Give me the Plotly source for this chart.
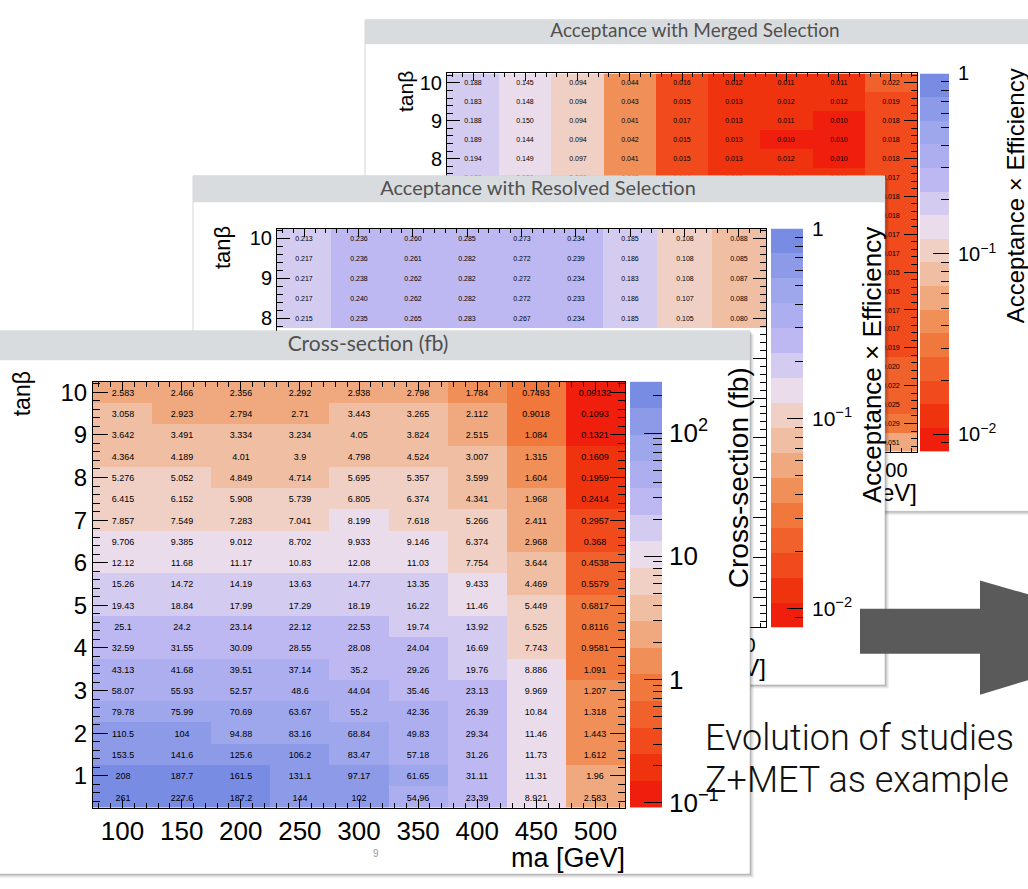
import math
import plotly.graph_objects as go

W, H = 1028, 889
FONT = "Liberation Sans"
TFONT = "Lato"

# ---------------- data ----------------
ma = [100, 150, 200, 250, 300, 350, 400, 450, 500]
tanb = [0.5, 1.0, 1.5, 2.0, 2.5, 3.0, 3.5, 4.0, 4.5, 5.0,
        5.5, 6.0, 6.5, 7.0, 7.5, 8.0, 8.5, 9.0, 9.5, 10.0]

# Cross-section (fb), rows from tanb = 10 down to 0.5
xsec_rows_top_down = [
    [2.583, 2.466, 2.356, 2.292, 2.938, 2.798, 1.784, 0.7493, 0.09132],
    [3.058, 2.923, 2.794, 2.71, 3.443, 3.265, 2.112, 0.9018, 0.1093],
    [3.642, 3.491, 3.334, 3.234, 4.05, 3.824, 2.515, 1.084, 0.1321],
    [4.364, 4.189, 4.01, 3.9, 4.798, 4.524, 3.007, 1.315, 0.1609],
    [5.276, 5.052, 4.849, 4.714, 5.695, 5.357, 3.599, 1.604, 0.1959],
    [6.415, 6.152, 5.908, 5.739, 6.805, 6.374, 4.341, 1.968, 0.2414],
    [7.857, 7.549, 7.283, 7.041, 8.199, 7.618, 5.266, 2.411, 0.2957],
    [9.706, 9.385, 9.012, 8.702, 9.933, 9.146, 6.374, 2.968, 0.368],
    [12.12, 11.68, 11.17, 10.83, 12.08, 11.03, 7.754, 3.644, 0.4538],
    [15.26, 14.72, 14.19, 13.63, 14.77, 13.35, 9.433, 4.469, 0.5579],
    [19.43, 18.84, 17.99, 17.29, 18.19, 16.22, 11.46, 5.449, 0.6817],
    [25.1, 24.2, 23.14, 22.12, 22.53, 19.74, 13.92, 6.525, 0.8116],
    [32.59, 31.55, 30.09, 28.55, 28.08, 24.04, 16.69, 7.743, 0.9581],
    [43.13, 41.68, 39.51, 37.14, 35.2, 29.26, 19.76, 8.886, 1.091],
    [58.07, 55.93, 52.57, 48.6, 44.04, 35.46, 23.13, 9.969, 1.207],
    [79.78, 75.99, 70.69, 63.67, 55.2, 42.36, 26.39, 10.84, 1.318],
    [110.5, 104, 94.88, 83.16, 68.84, 49.83, 29.34, 11.46, 1.443],
    [153.5, 141.6, 125.6, 106.2, 83.47, 57.18, 31.26, 11.73, 1.612],
    [208, 187.7, 161.5, 131.1, 97.17, 61.65, 31.11, 11.31, 1.96],
    [261, 227.6, 187.2, 144, 102, 54.96, 23.39, 8.921, 2.583],
]

# Acceptance x efficiency, merged selection (visible rows tanb = 10 .. 7.5)
merged_rows_top_down = [
    [0.188, 0.145, 0.094, 0.044, 0.016, 0.012, 0.011, 0.011, 0.022],
    [0.183, 0.148, 0.094, 0.043, 0.015, 0.013, 0.012, 0.012, 0.019],
    [0.188, 0.150, 0.094, 0.041, 0.017, 0.013, 0.011, 0.010, 0.018],
    [0.189, 0.144, 0.094, 0.042, 0.015, 0.013, 0.010, 0.010, 0.018],
    [0.194, 0.149, 0.097, 0.041, 0.015, 0.013, 0.012, 0.010, 0.018],
    [0.189, 0.151, 0.096, 0.043, 0.016, 0.013, 0.011, 0.011, 0.017],
]
# merged selection, ma = 500 column for tanb = 7 .. 0.5 (rest hidden)
merged_col500_lower = [0.018, 0.018, 0.017, 0.017, 0.015, 0.015, 0.017,
                       0.017, 0.019, 0.020, 0.022, 0.025, 0.029, 0.051]

# Acceptance x efficiency, resolved selection (visible rows tanb = 10 .. 8)
resolved_rows_top_down = [
    [0.213, 0.236, 0.260, 0.285, 0.273, 0.234, 0.185, 0.108, 0.088],
    [0.217, 0.236, 0.261, 0.282, 0.272, 0.239, 0.186, 0.108, 0.085],
    [0.217, 0.238, 0.262, 0.282, 0.272, 0.234, 0.183, 0.108, 0.087],
    [0.217, 0.240, 0.262, 0.282, 0.272, 0.233, 0.186, 0.107, 0.088],
    [0.215, 0.235, 0.265, 0.283, 0.267, 0.234, 0.185, 0.105, 0.080],
]

xsec_range = [0.09132, 261.0]
acc_range = [0.008, 1.0]

palette = ["#f01e0c", "#f0330f", "#f14a1c", "#f1612b", "#f1783c", "#f09058",
           "#f0a97e", "#f0bea2", "#f0d0c4", "#ebdcec", "#d4cbf1", "#bdb8f1",
           "#adaeef", "#9ea6ec", "#8c9ae8", "#788ce4"]


def full_grid(rows_top_down, extra_col=None):
    n = len(tanb)
    grid = [[None] * len(ma) for _ in range(n)]
    for i, row in enumerate(rows_top_down):
        grid[n - 1 - i] = list(row)
    if extra_col is not None:
        start = n - 1 - len(rows_top_down)
        for j, v in enumerate(extra_col):
            grid[start - j][len(ma) - 1] = v
    return grid


xsec = full_grid(xsec_rows_top_down)
merged = full_grid(merged_rows_top_down, merged_col500_lower)
resolved = full_grid(resolved_rows_top_down)

CS = []
for i, c in enumerate(palette):
    CS.append([i / len(palette), c])
    CS.append([(i + 1) / len(palette), c])


def fmt_g(v):
    return f"{v:.4g}"


def fmt_3(v):
    return f"{v:.3f}"


def dom_x(x0, x1):
    return [max(0.0, x0 / W), min(1.0, x1 / W)]


def dom_y(y0, y1):
    return [max(0.0, 1 - y1 / H), min(1.0, 1 - y0 / H)]


fig = go.Figure()
layout = {}
annotations = []


def rect_xy(x0, y0, x1, y1):
    return [x0, x1, x1, x0, x0], [y0, y0, y1, y1, y0]


def add_bg(n, panel, title, tsize, texts):
    xa, ya = ("x" if n == 1 else f"x{n}"), ("y" if n == 1 else f"y{n}")
    key_x = "xaxis" if n == 1 else f"xaxis{n}"
    key_y = "yaxis" if n == 1 else f"yaxis{n}"
    layout[key_x] = dict(domain=[0, 1], range=[0, W], visible=False, anchor=ya, fixedrange=True)
    layout[key_y] = dict(domain=[0, 1], range=[H, 0], visible=False, anchor=xa, fixedrange=True)
    x0, y0, x1, y1, bar = panel
    # soft drop shadow
    for k, a in [(4, 0.05), (3, 0.06), (2, 0.08), (1, 0.12)]:
        xs, ys = rect_xy(x0 + k, y0 + k, x1 + k, y1 + k)
        fig.add_trace(go.Scatter(x=xs, y=ys, fill="toself", fillcolor=f"rgba(0,0,0,{a})",
                                 mode="lines", line=dict(width=0), hoverinfo="skip",
                                 xaxis=xa, yaxis=ya))
    xs, ys = rect_xy(x0, y0, x1, y1)
    fig.add_trace(go.Scatter(x=xs, y=ys, fill="toself", fillcolor="white", mode="lines",
                             line=dict(width=0.6, color="#bbbbbb"), hoverinfo="skip",
                             xaxis=xa, yaxis=ya))
    xs, ys = rect_xy(x0, y0, x1, bar)
    fig.add_trace(go.Scatter(x=xs, y=ys, fill="toself", fillcolor="#d9dcdf", mode="lines",
                             line=dict(width=0), hoverinfo="skip", xaxis=xa, yaxis=ya))
    fig.add_trace(go.Scatter(x=[title[1]], y=[title[2]], mode="text", text=[title[0]],
                             textposition="middle center",
                             textfont=dict(family=TFONT, size=tsize, color="#505050"),
                             hoverinfo="skip", xaxis=xa, yaxis=ya))
    for (t, x, y, pos, size) in texts:
        fig.add_trace(go.Scatter(x=[x], y=[y], mode="text", text=[t], textposition=pos,
                                 textfont=dict(family=FONT, size=size, color="black"),
                                 hoverinfo="skip", xaxis=xa, yaxis=ya))


def add_heat(n, vals, fmt, box, zr, cell_size, xfont, yfont, xt, yt, xshow, yshow):
    xa, ya = f"x{n}", f"y{n}"
    z = [[(math.log10(v) if v is not None else None) for v in row] for row in vals]
    text = [[(fmt(v) if v is not None else "") for v in row] for row in vals]
    fig.add_trace(go.Heatmap(x=ma, y=tanb, z=z, text=text, texttemplate="%{text}",
                             textfont=dict(family=FONT, size=cell_size, color="black"),
                             colorscale=CS, zmin=math.log10(zr[0]), zmax=math.log10(zr[1]),
                             showscale=False, hoverinfo="skip", xaxis=xa, yaxis=ya))
    x0, y0, x1, y1 = box
    common = dict(showline=True, linecolor="black", linewidth=1, mirror="ticks",
                  ticks="inside", tickcolor="black", showgrid=False, zeroline=False,
                  fixedrange=True)
    xticks = ma
    yticks = list(range(1, 11))
    layout[f"xaxis{n}"] = dict(domain=dom_x(x0, x1), anchor=ya, range=[75, 525],
                               tickmode="array", tickvals=xticks,
                               ticktext=[str(v) if xshow(v) else "" for v in xticks],
                               ticklen=xt[0],
                               tickfont=dict(family=FONT, size=xfont, color="black"),
                               minor=dict(dtick=10, tick0=0, ticks="inside", ticklen=xt[1],
                                          tickcolor="black", showgrid=False),
                               **common)
    layout[f"yaxis{n}"] = dict(domain=dom_y(y0, y1), anchor=xa, range=[0.25, 10.25],
                               tickmode="array", tickvals=yticks,
                               ticktext=[str(v) if yshow(v) else "" for v in yticks],
                               ticklen=yt[0],
                               tickfont=dict(family=FONT, size=yfont, color="black"),
                               minor=dict(dtick=0.2, tick0=0, ticks="inside", ticklen=yt[1],
                                          tickcolor="black", showgrid=False),
                               **common)


def add_cbar(n, box, zr, tick_size, tl, standoff):
    xa, ya = f"x{n}", f"y{n}"
    lo, hi = math.log10(zr[0]), math.log10(zr[1])
    nb = len(palette)
    step = (hi - lo) / nb
    edges = [lo + k * step for k in range(nb + 1)]
    centers = [[lo + (k + 0.5) * step] for k in range(nb)]
    fig.add_trace(go.Heatmap(x=[0], y=edges, z=centers, colorscale=CS, zmin=lo, zmax=hi,
                             showscale=False, hoverinfo="skip", xaxis=xa, yaxis=ya))
    majors, minors, labels = [], [], []
    for e in range(-3, 4):
        if lo - 1e-9 <= e <= hi + 1e-9:
            majors.append(e)
            if e == 0:
                labels.append("1")
            elif e == 1:
                labels.append("10")
            else:
                labels.append(f"10<sup>{str(e).replace('-', '−')}</sup>")
        for m in range(2, 10):
            v = e + math.log10(m)
            if lo < v < hi:
                minors.append(v)
    x0, y0, x1, y1 = box
    layout[f"xaxis{n}"] = dict(domain=dom_x(x0, x1), anchor=ya, range=[-0.5, 0.5],
                               visible=False, fixedrange=True)
    layout[f"yaxis{n}"] = dict(domain=dom_y(y0, y1), anchor=xa, range=[lo, hi], side="right",
                               tickmode="array", tickvals=majors, ticktext=labels,
                               ticks="inside", ticklen=tl[0], tickcolor="black",
                               ticklabelstandoff=standoff,
                               showline=False, showgrid=False, zeroline=False,
                               minor=dict(tickmode="array", tickvals=minors, ticks="inside",
                                          ticklen=tl[1], tickcolor="black", showgrid=False),
                               tickfont=dict(family=FONT, size=tick_size, color="black"),
                               fixedrange=True)


def rot_label(text, x, ymid, size):
    annotations.append(dict(text=text, x=x / W, y=1 - ymid / H, xref="paper", yref="paper",
                            xanchor="center", yanchor="middle", textangle=-90, showarrow=False,
                            font=dict(family=FONT, size=size, color="black")))


# ---- merged (back) panel ----
add_bg(1, (365, 8, 1045, 512, 33), ("Acceptance with Merged Selection", 695, 21), 19,
       [("ma [GeV]", 917, 495, "middle left", 24)])
add_heat(2, merged, fmt_3, (447, 63, 917, 451), acc_range, 7, 20, 20, (8, 4), (13, 6),
         lambda v: v == 500, lambda v: v >= 8)
add_cbar(3, (920, 63, 949, 451), acc_range, 20, (16, 8), 8)
rot_label("tanβ", 406, 82, 21)
rot_label("Acceptance × Efficiency", 1015, 189, 24)

# ---- resolved (middle) panel ----
add_bg(4, (193, 168, 885, 690, 195), ("Acceptance with Resolved Selection", 538, 182), 20,
       [("ma [GeV]", 766, 675, "middle left", 24)])
add_heat(5, resolved, fmt_3, (277, 222, 766, 631), acc_range, 7, 20, 20, (8, 4), (13, 6),
         lambda v: v == 500, lambda v: v >= 8)
add_cbar(6, (771, 222, 803, 631), acc_range, 21, (16, 8), 8)
rot_label("tanβ", 222, 242, 22)
rot_label("Acceptance × Efficiency", 872, 362, 26)

# ---- cross-section (front) panel ----
add_bg(7, (-5, 327, 750, 884, 357), ("Cross-section (fb)", 368, 342), 21,
       [("ma [GeV]", 625, 870, "middle left", 27)])
add_heat(8, xsec, fmt_g, (93, 379, 625, 816), xsec_range, 9, 26, 24, (9, 5), (15, 7),
         lambda v: True, lambda v: True)
add_cbar(9, (630, 379, 662, 816), xsec_range, 26, (18, 9), 6)
rot_label("tanβ", 22, 392, 23)
rot_label("Cross-section (fb)", 738, 478, 28)

# ---- slide decorations ----
annotations.append(dict(text="9", x=376 / W, y=1 - 871 / H, xref="paper", yref="paper",
                        showarrow=False, font=dict(family=FONT, size=10, color="#999999")))
annotations.append(dict(text="Evolution of studies", x=703 / W, y=1 - 744 / H, xref="paper",
                        yref="paper", xanchor="left", yanchor="middle", showarrow=False,
                        font=dict(family="Roboto", size=36, color="#111111", weight=300)))
annotations.append(dict(text="Z+MET as example", x=703 / W, y=1 - 787 / H, xref="paper",
                        yref="paper", xanchor="left", yanchor="middle", showarrow=False,
                        font=dict(family="Roboto", size=36, color="#111111", weight=300)))


def px(x):
    return x / W


def py(y):
    return 1 - y / H


shapes = [
    dict(type="rect", xref="paper", yref="paper", x0=px(860), x1=px(990), y0=py(658), y1=py(612),
         fillcolor="#5a5a5a", line=dict(width=0), layer="above"),
    dict(type="path", xref="paper", yref="paper",
         path=f"M {px(980)},{py(583)} L {px(1175)},{py(640)} L {px(980)},{py(700)} Z",
         fillcolor="#5a5a5a", line=dict(width=0), layer="above"),
]

fig.update_layout(**layout)
fig.update_layout(width=W, height=H, autosize=False, margin=dict(l=0, r=0, t=0, b=0),
                  paper_bgcolor="white", plot_bgcolor="rgba(0,0,0,0)", showlegend=False,
                  annotations=annotations, shapes=shapes)
fig.write_html("out.html")
